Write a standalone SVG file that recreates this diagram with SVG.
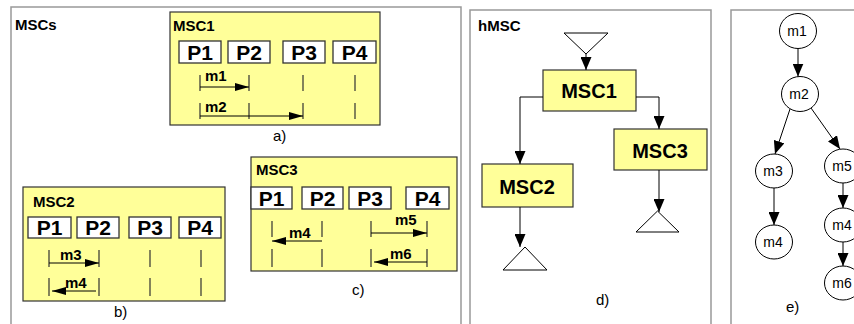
<svg xmlns="http://www.w3.org/2000/svg" width="854" height="324" viewBox="0 0 854 324">
<defs>
<style>
.panel{fill:#fff;stroke:#999;stroke-width:1.5}
.msc{fill:#ffff99;stroke:#333;stroke-width:1.2}
.pbox{fill:#fff;stroke:#333;stroke-width:1.3}
.pt{font-family:"Liberation Sans",Arial,sans-serif;font-weight:bold;font-size:21px;fill:#000;text-anchor:middle}
.title{font-family:"Liberation Sans",Arial,sans-serif;font-weight:bold;font-size:15px;fill:#000}
.ml{font-family:"Liberation Sans",Arial,sans-serif;font-weight:bold;font-size:15px;fill:#000}
.cap{font-family:"Liberation Sans",Arial,sans-serif;font-size:15px;fill:#000}
.big{font-family:"Liberation Sans",Arial,sans-serif;font-weight:bold;font-size:20px;fill:#000;text-anchor:middle}
.node{fill:#fff;stroke:#000;stroke-width:1}
.nt{font-family:"Liberation Sans",Arial,sans-serif;font-size:14px;fill:#000;text-anchor:middle}
.life{stroke:#333;stroke-width:1.2}
.msg{stroke:#000;stroke-width:1;fill:none}
.con{stroke:#000;stroke-width:1;fill:none}
.tri{fill:#fff;stroke:#000;stroke-width:1}
</style>
<marker id="ah" markerUnits="userSpaceOnUse" markerWidth="14" markerHeight="8" refX="14" refY="4" orient="auto"><path d="M0,0 L14,4 L0,8 z" fill="#000"/></marker>
<marker id="ah2" markerUnits="userSpaceOnUse" markerWidth="13" markerHeight="11" refX="13" refY="5.5" orient="auto"><path d="M0,0 L13,5.5 L0,11 z" fill="#000"/></marker>
</defs>

<!-- panels -->
<rect class="panel" x="11" y="7" width="450" height="330"/>
<rect class="panel" x="470" y="10" width="241" height="330"/>
<rect class="panel" x="731" y="10" width="200" height="330"/>
<text class="title" x="15" y="30">MSCs</text>
<text class="title" x="478" y="31">hMSC</text>

<!-- MSC1 (a) -->
<g id="msc1">
<rect class="msc" x="170" y="12" width="210" height="113"/>
<text class="title" x="173" y="31">MSC1</text>
<rect class="pbox" x="179" y="41" width="42" height="22"/><text class="pt" x="200" y="59.5">P1</text>
<rect class="pbox" x="228" y="41" width="42" height="22"/><text class="pt" x="249" y="59.5">P2</text>
<rect class="pbox" x="283" y="41" width="42" height="22"/><text class="pt" x="304" y="59.5">P3</text>
<rect class="pbox" x="333" y="41" width="43" height="22"/><text class="pt" x="354.5" y="59.5">P4</text>
<path class="life" d="M200,75V91M249,75V91M303,75V91M355,75V91M200,103V119M249,103V119M303,103V119M355,103V119"/>
<line class="msg" x1="200" y1="87" x2="249" y2="87" marker-end="url(#ah)"/>
<text class="ml" x="205" y="81">m1</text>
<line class="msg" x1="200" y1="116" x2="303" y2="116" marker-end="url(#ah)"/>
<text class="ml" x="205" y="112">m2</text>
</g>
<text class="cap" x="273" y="141">a)</text>

<!-- MSC2 (b) -->
<g id="msc2">
<rect class="msc" x="23" y="187" width="202" height="114"/>
<text class="title" x="33" y="207">MSC2</text>
<rect class="pbox" x="28" y="217" width="43" height="21"/><text class="pt" x="49.5" y="235">P1</text>
<rect class="pbox" x="77" y="217" width="42" height="21"/><text class="pt" x="98" y="235">P2</text>
<rect class="pbox" x="129" y="217" width="42" height="21"/><text class="pt" x="150" y="235">P3</text>
<rect class="pbox" x="179" y="217" width="42" height="21"/><text class="pt" x="200" y="235">P4</text>
<path class="life" d="M49,250V267M99,250V267M150,250V267M201,250V267M49,278V296M99,278V296M150,278V296M201,278V296"/>
<line class="msg" x1="49" y1="263" x2="99" y2="263" marker-end="url(#ah)"/>
<text class="ml" x="60" y="260">m3</text>
<line class="msg" x1="96" y1="291" x2="52" y2="291" marker-end="url(#ah)"/>
<text class="ml" x="65" y="288">m4</text>
</g>
<text class="cap" x="114" y="317">b)</text>

<!-- MSC3 (c) -->
<g id="msc3">
<rect class="msc" x="251" y="157" width="206" height="114"/>
<text class="title" x="256" y="175">MSC3</text>
<rect class="pbox" x="251" y="187" width="41" height="22"/><text class="pt" x="271.5" y="205.5">P1</text>
<rect class="pbox" x="302" y="187" width="41" height="22"/><text class="pt" x="322.5" y="205.5">P2</text>
<rect class="pbox" x="349" y="187" width="42" height="22"/><text class="pt" x="370" y="205.5">P3</text>
<rect class="pbox" x="406" y="187" width="43" height="22"/><text class="pt" x="427.5" y="205.5">P4</text>
<path class="life" d="M272,221V237M322,221V237M371,221V237M427,221V237M272,249V267M322,249V267M371,249V267M427,249V267"/>
<line class="msg" x1="322" y1="241" x2="272" y2="241" marker-end="url(#ah)"/>
<text class="ml" x="289" y="238">m4</text>
<line class="msg" x1="371" y1="233" x2="427" y2="233" marker-end="url(#ah)"/>
<text class="ml" x="395" y="225">m5</text>
<line class="msg" x1="427" y1="262" x2="374" y2="262" marker-end="url(#ah)"/>
<text class="ml" x="390" y="259">m6</text>
</g>
<text class="cap" x="352" y="295">c)</text>

<!-- hMSC (d) -->
<g id="start"><polygon class="tri" points="564,33 608,33 586,54"/></g>
<g id="h-msc1"><rect class="msc" x="543" y="70" width="93" height="41"/><text class="big" x="589" y="98">MSC1</text></g>
<g id="h-msc2"><rect class="msc" x="482" y="164" width="91" height="43"/><text class="big" x="527" y="194">MSC2</text></g>
<g id="h-msc3"><rect class="msc" x="614" y="129" width="93" height="41"/><text class="big" x="660" y="158">MSC3</text></g>
<g id="end2"><polygon class="tri" points="503,270 547,270 525,247"/></g>
<g id="end3"><polygon class="tri" points="636,232 679,232 657.5,211"/></g>
<g id="hmsc-connectors">
<line class="con" x1="586" y1="54" x2="586" y2="70" marker-end="url(#ah2)"/>
<polyline class="con" points="543,97 520,97 520,164" marker-end="url(#ah2)"/>
<polyline class="con" points="636,97 659,97 659,129" marker-end="url(#ah2)"/>
<line class="con" x1="520" y1="207" x2="520" y2="247" marker-end="url(#ah2)"/>
<line class="con" x1="659" y1="170" x2="659" y2="212" marker-end="url(#ah2)"/>
</g>
<text class="cap" x="596" y="305">d)</text>

<!-- graph (e) -->
<g id="n-m1"><ellipse class="node" cx="798" cy="31" rx="18.5" ry="17.5"/><text class="nt" x="797" y="36">m1</text></g>
<g id="n-m2"><ellipse class="node" cx="800" cy="94" rx="18.5" ry="17.5"/><text class="nt" x="799" y="99">m2</text></g>
<g id="n-m3"><ellipse class="node" cx="774" cy="171" rx="18.5" ry="17"/><text class="nt" x="773" y="176">m3</text></g>
<g id="n-m4a"><ellipse class="node" cx="774" cy="242" rx="18.5" ry="17"/><text class="nt" x="773" y="247">m4</text></g>
<g id="n-m5"><ellipse class="node" cx="843" cy="166" rx="18.5" ry="17"/><text class="nt" x="842" y="171">m5</text></g>
<g id="n-m4b"><ellipse class="node" cx="843" cy="225" rx="18.5" ry="17"/><text class="nt" x="842" y="230">m4</text></g>
<g id="n-m6"><ellipse class="node" cx="843" cy="283" rx="18.5" ry="17"/><text class="nt" x="842" y="288">m6</text></g>
<g id="graph-connectors">
<line class="con" x1="798" y1="48.5" x2="798" y2="76.5" marker-end="url(#ah2)"/>
<line class="con" x1="790" y1="109" x2="775" y2="154" marker-end="url(#ah2)"/>
<line class="con" x1="811" y1="108" x2="840" y2="149" marker-end="url(#ah2)"/>
<line class="con" x1="774" y1="188" x2="774" y2="225" marker-end="url(#ah2)"/>
<line class="con" x1="843" y1="183" x2="843" y2="208" marker-end="url(#ah2)"/>
<line class="con" x1="843" y1="242" x2="843" y2="266" marker-end="url(#ah2)"/>
</g>
<text class="cap" x="786" y="312">e)</text>
</svg>
